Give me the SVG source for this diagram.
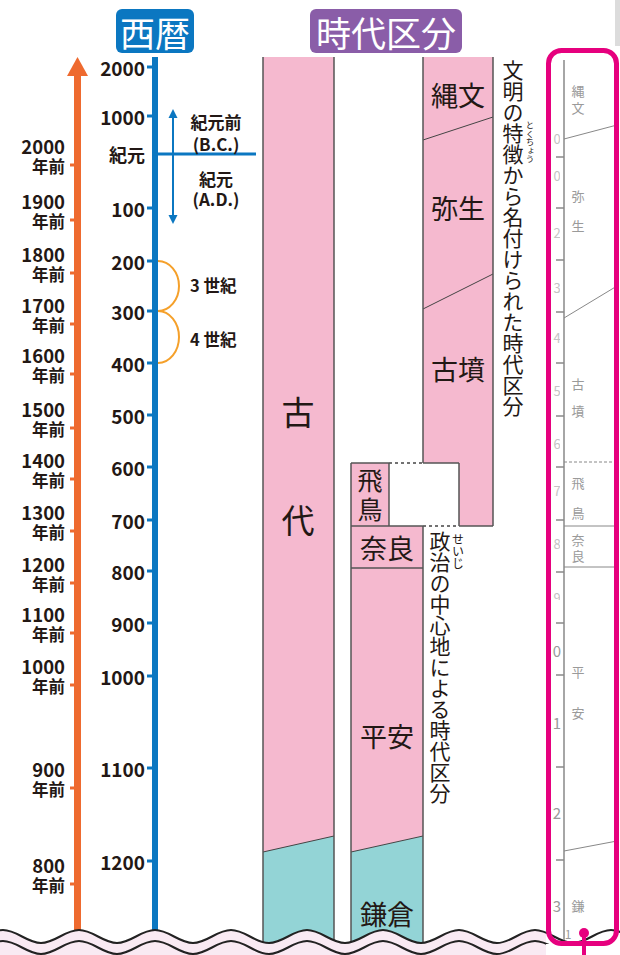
<svg xmlns="http://www.w3.org/2000/svg" width="620" height="955" viewBox="0 0 620 955">
<style>
text{font-family:"Noto Sans CJK JP","Noto Sans",sans-serif;fill:#231815;dominant-baseline:central}
.num{font-size:19px;font-weight:700;text-anchor:end}
.onum{font-size:18.5px;font-weight:700;text-anchor:end}
.ago{font-size:16.5px;font-weight:700;text-anchor:end}
.bc{font-size:17px;font-weight:700;text-anchor:middle}
.cen{font-size:16.5px;font-weight:700}
.hd{font-size:35px;fill:#fff;text-anchor:middle}
.per{font-size:27px;text-anchor:middle}
.big{font-size:33px;text-anchor:middle}
.vt{font-size:21px;writing-mode:vertical-rl}
.ruby{writing-mode:vertical-rl}
.th{font-size:13px;fill:#9a9a9a;text-anchor:middle}
.thd{font-size:13px;fill:#c4c4c4;text-anchor:middle}
.bdr{stroke:#555;stroke-width:1.5;fill:none}
.div{stroke:#444;stroke-width:1;fill:none}
.dash{stroke:#444;stroke-width:1.5;stroke-dasharray:3 3;fill:none}
.bt{stroke:#0B77C1;stroke-width:3}
.ot{stroke:#EE6A2F;stroke-width:3}
.tt{stroke:#888;stroke-width:1.5}
.td{stroke:#888;stroke-width:1;fill:none}
.pink{fill:#F5B9CF}
.teal{fill:#93D4D6}
</style>
<defs>
<clipPath id="dclip"><rect x="553" y="120" width="7" height="480"/></clipPath>
</defs>

<rect x="615" y="0" width="5" height="46" fill="#dcdcdc"/>

<g id="header-seireki">
<rect x="116" y="9" width="78" height="44" rx="6" fill="#0B77C1"/>
<text class="hd" x="155" y="31">西暦</text>
</g>
<g id="header-jidai">
<rect x="310" y="9" width="152" height="44" rx="6" fill="#8A5DA8"/>
<text class="hd" x="386" y="31">時代区分</text>
</g>

<g id="orange-axis">
<line x1="77.5" y1="72" x2="77.5" y2="945" stroke="#EE6A2F" stroke-width="7"/>
<polygon points="77.5,57 67,76 88,76" fill="#EE6A2F"/>
<g class="ot">
<line x1="70" y1="165" x2="75" y2="165"/><line x1="70" y1="220" x2="75" y2="220"/>
<line x1="70" y1="273" x2="75" y2="273"/><line x1="70" y1="324" x2="75" y2="324"/>
<line x1="70" y1="374" x2="75" y2="374"/><line x1="70" y1="428" x2="75" y2="428"/>
<line x1="70" y1="479" x2="75" y2="479"/><line x1="70" y1="531" x2="75" y2="531"/>
<line x1="70" y1="583" x2="75" y2="583"/><line x1="70" y1="633" x2="75" y2="633"/>
<line x1="70" y1="685" x2="75" y2="685"/><line x1="70" y1="788" x2="75" y2="788"/>
<line x1="70" y1="884" x2="75" y2="884"/>
</g>
<text class="onum" x="65" y="146">2000</text><text class="ago" x="65" y="165.5">年前</text>
<text class="onum" x="65" y="201">1900</text><text class="ago" x="65" y="220.5">年前</text>
<text class="onum" x="65" y="254">1800</text><text class="ago" x="65" y="273.5">年前</text>
<text class="onum" x="65" y="305">1700</text><text class="ago" x="65" y="324.5">年前</text>
<text class="onum" x="65" y="355">1600</text><text class="ago" x="65" y="374.5">年前</text>
<text class="onum" x="65" y="409">1500</text><text class="ago" x="65" y="428.5">年前</text>
<text class="onum" x="65" y="460">1400</text><text class="ago" x="65" y="479.5">年前</text>
<text class="onum" x="65" y="512">1300</text><text class="ago" x="65" y="531.5">年前</text>
<text class="onum" x="65" y="564">1200</text><text class="ago" x="65" y="583.5">年前</text>
<text class="onum" x="65" y="614">1100</text><text class="ago" x="65" y="633.5">年前</text>
<text class="onum" x="65" y="666">1000</text><text class="ago" x="65" y="685.5">年前</text>
<text class="onum" x="65" y="769">900</text><text class="ago" x="65" y="788.5">年前</text>
<text class="onum" x="65" y="865">800</text><text class="ago" x="65" y="884.5">年前</text>
</g>

<g id="blue-axis">
<line x1="155" y1="57" x2="155" y2="945" stroke="#0B77C1" stroke-width="6"/>
<g class="bt">
<line x1="147" y1="67" x2="153" y2="67"/><line x1="147" y1="116" x2="153" y2="116"/>
<line x1="147" y1="208" x2="153" y2="208"/><line x1="147" y1="261" x2="153" y2="261"/>
<line x1="147" y1="311" x2="153" y2="311"/><line x1="147" y1="363" x2="153" y2="363"/>
<line x1="147" y1="415" x2="153" y2="415"/><line x1="147" y1="467" x2="153" y2="467"/>
<line x1="147" y1="520" x2="153" y2="520"/><line x1="147" y1="571" x2="153" y2="571"/>
<line x1="147" y1="623" x2="153" y2="623"/><line x1="147" y1="676" x2="153" y2="676"/>
<line x1="147" y1="768" x2="153" y2="768"/><line x1="147" y1="861" x2="153" y2="861"/>
<line x1="152" y1="154" x2="256" y2="154"/>
</g>
<text class="num" x="145" y="67">2000</text>
<text class="num" x="145" y="116">1000</text>
<text class="num" x="145" y="154" style="font-size:18px">紀元</text>
<text class="num" x="145" y="208">100</text>
<text class="num" x="145" y="261">200</text>
<text class="num" x="145" y="311">300</text>
<text class="num" x="145" y="363">400</text>
<text class="num" x="145" y="415">500</text>
<text class="num" x="145" y="467">600</text>
<text class="num" x="145" y="520">700</text>
<text class="num" x="145" y="571">800</text>
<text class="num" x="145" y="623">900</text>
<text class="num" x="145" y="676">1000</text>
<text class="num" x="145" y="768">1100</text>
<text class="num" x="145" y="861">1200</text>
</g>

<g id="era-arrow">
<line x1="173" y1="116" x2="173" y2="217" stroke="#0B77C1" stroke-width="2"/>
<polygon points="173,109 168.5,118 177.5,118" fill="#0B77C1"/>
<polygon points="173,224 168.5,215 177.5,215" fill="#0B77C1"/>
<text class="bc" x="216" y="121">紀元前</text>
<text class="bc" x="216" y="143">(B.C.)</text>
<text class="bc" x="216" y="178">紀元</text>
<text class="bc" x="216" y="198">(A.D.)</text>
</g>

<g id="centuries">
<path d="M158 261 A21 25 0 0 1 158 311 A21 26 0 0 1 158 363" fill="none" stroke="#F5A02A" stroke-width="2"/>
<text class="cen" x="190" y="285">3 世紀</text>
<text class="cen" x="190" y="339">4 世紀</text>
</g>

<g id="col-kodai">
<rect class="pink" x="263" y="57" width="71" height="890"/>
<polygon class="teal" points="263,852 334,836 334,947 263,947"/>
<line class="div" x1="263" y1="852" x2="334" y2="836"/>
<line class="bdr" x1="263" y1="57" x2="263" y2="947"/>
<line class="bdr" x1="334" y1="57" x2="334" y2="947"/>
<text class="big" x="298" y="411">古</text>
<text class="big" x="298" y="519">代</text>
</g>

<g id="col-bunmei">
<polygon class="pink" points="423,57 493,57 493,526 459,526 459,463 423,463"/>
<line class="div" x1="423" y1="140" x2="493" y2="117"/>
<line class="div" x1="423" y1="309" x2="493" y2="274"/>
<line class="bdr" x1="423" y1="57" x2="423" y2="463"/>
<line class="bdr" x1="493" y1="57" x2="493" y2="526"/>
<line class="bdr" x1="459" y1="526" x2="493" y2="526"/>
<line class="bdr" x1="459" y1="463" x2="459" y2="526"/>
<line class="bdr" x1="423" y1="463" x2="459" y2="463"/>
<line class="dash" x1="389" y1="463" x2="423" y2="463"/>
<line class="dash" x1="423" y1="526" x2="459" y2="526"/>
<text class="per" x="458" y="94">縄文</text>
<text class="per" x="458" y="207">弥生</text>
<text class="per" x="458" y="368">古墳</text>
</g>

<g id="col-seiji">
<rect class="pink" x="351" y="463" width="38" height="63"/>
<polygon class="pink" points="351,526 423,526 423,836 351,852"/>
<polygon class="teal" points="351,852 423,836 423,947 351,947"/>
<line class="div" x1="351" y1="852" x2="423" y2="836"/>
<line class="bdr" x1="351" y1="463" x2="351" y2="947"/>
<line class="bdr" x1="351" y1="463" x2="389" y2="463"/>
<line class="bdr" x1="389" y1="463" x2="389" y2="526"/>
<line class="bdr" x1="423" y1="526" x2="423" y2="947"/>
<line class="bdr" x1="351" y1="526" x2="423" y2="526"/>
<line class="bdr" x1="351" y1="568" x2="423" y2="568"/>
<text class="per" x="370" y="479" style="font-size:25px">飛</text>
<text class="per" x="370" y="508" style="font-size:25px">鳥</text>
<text class="per" x="387" y="547">奈良</text>
<text class="per" x="387" y="735">平安</text>
<text class="per" x="387" y="913">鎌倉</text>
</g>

<g id="note-bunmei">
<text class="vt" x="513" y="60">文明の特徴から名付けられた時代区分</text>
<text class="ruby" x="530" y="121" style="font-size:8.5px">とくちょう</text>
</g>
<g id="note-seiji">
<text class="vt" x="440" y="531">政治の中心地による時代区分</text>
<text class="ruby" x="458" y="533" style="font-size:12px">せいじ</text>
</g>

<g id="wave">
<path d="M-35 943 C-21 943 -11 930 3 930 S27 943 41 943 S65 930 79 930 S103 943 117 943 S141 930 155 930 S179 943 193 943 S217 930 231 930 S255 943 269 943 S293 930 307 930 S331 943 345 943 S369 930 383 930 S407 943 421 943 S445 930 459 930 S483 943 497 943 S521 930 535 930 L546 932 L546 960 L-35 960 Z" fill="#F9EAF3"/>
<path d="M-35 943 C-21 943 -11 930 3 930 S27 943 41 943 S65 930 79 930 S103 943 117 943 S141 930 155 930 S179 943 193 943 S217 930 231 930 S255 943 269 943 S293 930 307 930 S331 943 345 943 S369 930 383 930 S407 943 421 943 S445 930 459 930 S483 943 497 943 S521 930 535 930 S559 943 573 943 S597 930 611 930 S635 943 649 943" fill="none" stroke="#222" stroke-width="2"/>
<path d="M-35 954 C-21 954 -11 941 3 941 S27 954 41 954 S65 941 79 941 S103 954 117 954 S141 941 155 941 S179 954 193 954 S217 941 231 941 S255 954 269 954 S293 941 307 941 S331 954 345 954 S369 941 383 941 S407 954 421 954 S445 941 459 941 S483 954 497 954 S521 941 535 941 S559 954 573 954" fill="none" stroke="#222" stroke-width="2"/>
</g>

<g id="thumbnail">
<rect x="546" y="944" width="74" height="11" fill="#fff"/>
<line class="tt" x1="564" y1="60" x2="564" y2="940"/>
<g class="tt">
<line x1="556" y1="157" x2="564" y2="157"/><line x1="556" y1="208" x2="564" y2="208"/>
<line x1="556" y1="260" x2="564" y2="260"/><line x1="556" y1="312" x2="564" y2="312"/>
<line x1="556" y1="363" x2="564" y2="363"/><line x1="556" y1="416" x2="564" y2="416"/>
<line x1="556" y1="467" x2="564" y2="467"/><line x1="556" y1="520" x2="564" y2="520"/>
<line x1="556" y1="572" x2="564" y2="572"/><line x1="556" y1="623" x2="564" y2="623"/>
<line x1="556" y1="675" x2="564" y2="675"/><line x1="556" y1="767" x2="564" y2="767"/>
<line x1="556" y1="860" x2="564" y2="860"/>
</g>
<line class="td" x1="564" y1="139" x2="617" y2="125"/>
<line class="td" x1="564" y1="318" x2="617" y2="286"/>
<line class="td" x1="564" y1="462" x2="617" y2="462" stroke-dasharray="3 2"/>
<line class="td" x1="564" y1="526" x2="617" y2="526"/>
<line class="td" x1="564" y1="567" x2="617" y2="567"/>
<line class="td" x1="564" y1="851" x2="617" y2="841"/>
<g clip-path="url(#dclip)">
<text class="thd" x="557" y="138">0</text>
<text class="thd" x="557" y="175">0</text>
<text class="thd" x="557" y="232">2</text>
<text class="thd" x="557" y="287">3</text>
<text class="thd" x="557" y="337">4</text>
<text class="thd" x="557" y="390">5</text>
<text class="thd" x="557" y="443">6</text>
<text class="thd" x="557" y="490">7</text>
<text class="thd" x="557" y="543">8</text>
<text class="thd" x="557" y="597">9</text>
</g>
<text class="th" x="557" y="650" style="font-size:15px">0</text>
<text class="th" x="557" y="722" style="font-size:15px">1</text>
<text class="th" x="557" y="812" style="font-size:15px">2</text>
<text class="th" x="557" y="905" style="font-size:15px">3</text>
<text class="th" x="568" y="933" style="font-size:12px">1</text>
<text class="th" x="578" y="90">縄</text><text class="th" x="578" y="107">文</text>
<text class="th" x="578" y="195">弥</text><text class="th" x="578" y="225">生</text>
<text class="th" x="578" y="383">古</text><text class="th" x="578" y="410">墳</text>
<text class="th" x="578" y="482">飛</text><text class="th" x="578" y="512">鳥</text>
<text class="th" x="578" y="539">奈</text><text class="th" x="578" y="555">良</text>
<text class="th" x="578" y="671">平</text><text class="th" x="578" y="712">安</text>
<text class="th" x="578" y="905">鎌</text>
<rect x="548.5" y="50.5" width="68" height="893" rx="13" fill="none" stroke="#E6007E" stroke-width="5"/>
<line x1="584" y1="933" x2="584" y2="955" stroke="#E6007E" stroke-width="4"/>
<circle cx="584" cy="933" r="5" fill="#E6007E"/>
</g>
</svg>
